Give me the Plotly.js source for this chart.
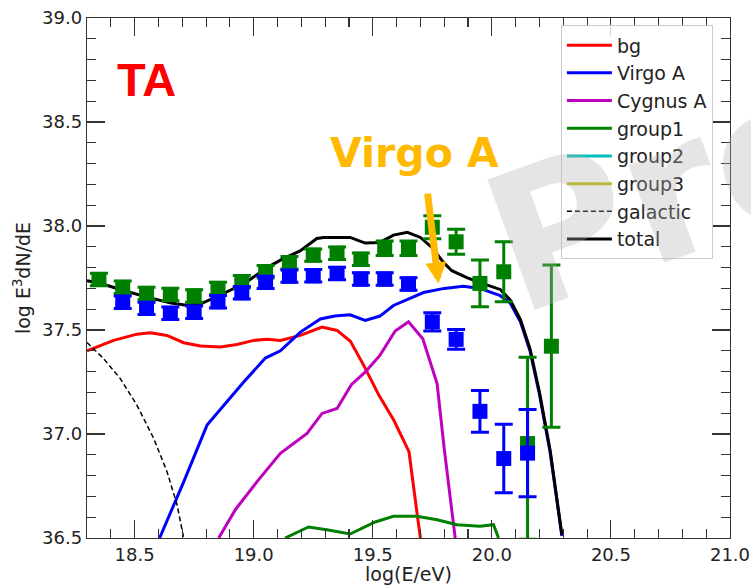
<!DOCTYPE html>
<html>
<head>
<meta charset="utf-8">
<script src="https://cdn.plot.ly/plotly-3.0.1.min.js"></script>
<style>html,body{margin:0;padding:0;background:#fff;}#chart{width:751px;height:585px;}</style>
</head>
<body>
<div id="chart"></div>
<script>
// ---- data points (measured spectrum) ----
const dataGreenX = [18.35,18.45,18.55,18.65,18.75,18.85,18.95,19.05,19.15,19.25,19.35,19.45,19.55,19.65,19.75,19.85,19.95,20.05,20.15,20.25];
const dataGreenY = [37.743,37.705,37.676,37.671,37.664,37.700,37.732,37.780,37.823,37.860,37.869,37.840,37.893,37.893,37.994,37.924,37.724,37.780,36.954,37.422];
const dataGreenErrUp = [0.03,0.03,0.03,0.03,0.03,0.03,0.03,0.03,0.03,0.03,0.03,0.03,0.035,0.035,0.055,0.06,0.112,0.144,0.415,0.39];
const dataGreenErrDown = [0.03,0.03,0.03,0.03,0.03,0.03,0.03,0.03,0.03,0.03,0.03,0.03,0.035,0.035,0.055,0.06,0.112,0.144,0.46,0.39];

const dataBlueX = [18.45,18.55,18.65,18.75,18.85,18.95,19.05,19.15,19.25,19.35,19.45,19.55,19.65,19.75,19.85,19.95,20.05,20.15];
const dataBlueY = [37.633,37.604,37.580,37.585,37.636,37.679,37.729,37.759,37.761,37.772,37.745,37.745,37.721,37.539,37.455,37.109,36.882,36.908];
const dataBlueErr = [0.03,0.03,0.03,0.03,0.03,0.03,0.03,0.03,0.03,0.03,0.03,0.03,0.03,0.044,0.048,0.10,0.165,0.21];

// ---- model curves ----
const bgX = [18.30,18.412,18.51,18.566,18.636,18.706,18.776,18.86,18.93,19.00,19.056,19.112,19.196,19.287,19.35,19.406,19.462,19.526,19.589,19.652,19.687,19.70];
const bgY = [37.40,37.45,37.48,37.487,37.474,37.439,37.423,37.418,37.43,37.45,37.455,37.45,37.474,37.514,37.498,37.446,37.33,37.186,37.065,36.915,36.61,36.50];

const virgoX = [18.605,18.706,18.804,18.874,18.958,19.049,19.112,19.196,19.28,19.34,19.405,19.468,19.53,19.587,19.713,19.80,19.88,19.95,20.035,20.077,20.12,20.16,20.20,20.245,20.294];
const virgoY = [36.50,36.77,37.043,37.138,37.25,37.365,37.40,37.49,37.553,37.567,37.573,37.546,37.567,37.618,37.68,37.70,37.71,37.70,37.665,37.63,37.54,37.40,37.19,36.91,36.51];

const cygX = [18.853,18.923,19.014,19.112,19.224,19.287,19.35,19.41,19.47,19.53,19.594,19.65,19.71,19.77,19.80,19.846];
const cygY = [36.50,36.636,36.771,36.907,37.003,37.099,37.123,37.237,37.30,37.378,37.495,37.54,37.458,37.242,36.93,36.50];

const group1X = [19.132,19.23,19.307,19.405,19.51,19.587,19.685,19.77,19.853,19.95,20.007,20.028];
const group1Y = [36.50,36.553,36.54,36.519,36.577,36.604,36.604,36.588,36.564,36.556,36.564,36.50];

// group2 / group3 lie below the plotted range: no visible values
const group2X = [null];
const group2Y = [null];
const group3X = [null];
const group3Y = [null];

const galX = [18.30,18.37,18.44,18.51,18.58,18.636,18.678,18.706];
const galY = [37.44,37.362,37.266,37.138,36.979,36.819,36.66,36.50];

const totalX = [18.30,18.356,18.457,18.556,18.653,18.71,18.776,18.856,18.958,19.056,19.126,19.195,19.265,19.293,19.405,19.468,19.53,19.587,19.645,19.70,19.748,19.797,19.832,19.895,19.95,20.035,20.077,20.12,20.16,20.20,20.245,20.294];
const totalY = [37.737,37.725,37.689,37.657,37.63,37.62,37.625,37.666,37.721,37.80,37.844,37.88,37.94,37.945,37.945,37.918,37.921,37.956,37.97,37.945,37.897,37.825,37.785,37.752,37.728,37.695,37.645,37.55,37.41,37.20,36.92,36.515];

const legendNames = ['bg','Virgo A','Cygnus A','group1','group2','group3','galactic','total'];
const xTickVals = [18.5,19.0,19.5,20.0,20.5,21.0];
const xTickText = ['18.5','19.0','19.5','20.0','20.5','21.0'];
const yTickVals = [36.5,37.0,37.5,38.0,38.5,39.0];
const yTickText = ['36.5','37.0','37.5','38.0','38.5','39.0'];

const FONT = 'DejaVu Sans, Verdana, sans-serif';
const LW = 3;

function line(x, y, name, color, dash, w) {
  return {x: x, y: y, name: name, type: 'scatter', mode: 'lines', showlegend: true,
          line: {color: color, width: w || LW, dash: dash || 'solid'}, hoverinfo: 'skip'};
}

const traces = [
  line(bgX, bgY, legendNames[0], '#ff0000'),
  line(virgoX, virgoY, legendNames[1], '#0000ff'),
  line(cygX, cygY, legendNames[2], '#bf00bf'),
  line(group1X, group1Y, legendNames[3], '#008000'),
  line(group2X, group2Y, legendNames[4], '#00bfbf'),
  line(group3X, group3Y, legendNames[5], '#bfbf00'),
  line(galX, galY, legendNames[6], '#000000', '5px,3px', 1.5),
  line(totalX, totalY, legendNames[7], '#000000'),
  {x: dataGreenX, y: dataGreenY, type: 'scatter', mode: 'markers', showlegend: false,
   marker: {symbol: 'square', size: 15, color: '#008000'},
   error_y: {type: 'data', symmetric: false, array: dataGreenErrUp, arrayminus: dataGreenErrDown,
             color: '#008000', thickness: 3, width: 9}},
  {x: dataBlueX, y: dataBlueY, type: 'scatter', mode: 'markers', showlegend: false,
   marker: {symbol: 'square', size: 15, color: '#0000ff'},
   error_y: {type: 'data', array: dataBlueErr, color: '#0000ff', thickness: 3, width: 9}}
];

const axisCommon = {
  showline: true, linecolor: '#333', linewidth: 1.3, mirror: 'ticks',
  ticks: 'inside', ticklen: 18, tickwidth: 1.1, tickcolor: '#333',
  showgrid: false, zeroline: false,
  tickfont: {family: FONT, size: 18, color: '#222'}
};

const layout = {
  width: 751, height: 585,
  margin: {l: 87, r: 21, t: 18, b: 47, pad: 0},
  paper_bgcolor: '#ffffff', plot_bgcolor: '#ffffff',
  font: {family: FONT, size: 18, color: '#222'},
  showlegend: true,
  legend: {x: 0.737, y: 0.986, xanchor: 'left', yanchor: 'top',
           bgcolor: 'rgba(255,255,255,0.8)', bordercolor: '#cccccc', borderwidth: 1,
           font: {family: FONT, size: 19, color: '#222'}, itemwidth: 45, tracegroupgap: 0},
  xaxis: Object.assign({}, axisCommon, {
    range: [18.3, 21.0], tickmode: 'array', tickvals: xTickVals, ticktext: xTickText,
    minor: {dtick: 0.1, tick0: 18.3, ticks: 'inside', ticklen: 9, tickwidth: 1.1, tickcolor: '#333', showgrid: false},
    title: {text: 'log(E/eV)', font: {family: FONT, size: 19, color: '#222'}, standoff: 0}
  }),
  yaxis: Object.assign({}, axisCommon, {
    range: [36.5, 39.0], tickmode: 'array', tickvals: yTickVals, ticktext: yTickText,
    minor: {dtick: 0.1, tick0: 36.5, ticks: 'inside', ticklen: 9, tickwidth: 1.1, tickcolor: '#333', showgrid: false},
    title: {text: 'log E<sup>3</sup>dN/dE', font: {family: FONT, size: 19, color: '#222'}, standoff: 6}
  }),
  annotations: [
    {text: '<b>Pre</b>', xref: 'paper', yref: 'paper', x: 0.90, y: 0.665,
     xanchor: 'center', yanchor: 'middle', textangle: -20, showarrow: false,
     font: {family: 'DejaVu Sans', size: 190, color: 'rgba(175,175,175,0.33)'}},
    {text: '<b>TA</b>', xref: 'paper', yref: 'paper', x: 0.0918, y: 0.881,
     xanchor: 'center', yanchor: 'middle', showarrow: false,
     font: {family: 'Liberation Sans, Arial, sans-serif', size: 47, color: '#ff0000'}},
    {text: '<b>Virgo A</b>', xref: 'x', yref: 'y', x: 19.674, y: 38.351,
     xanchor: 'center', yanchor: 'middle', showarrow: false,
     font: {family: FONT, size: 41, color: '#ffb900'}},
    {text: ' ', xref: 'x', yref: 'y', x: 19.776, y: 37.724,
     axref: 'x', ayref: 'y', ax: 19.724, ay: 38.213,
     showarrow: true, arrowhead: 2, arrowsize: 0.6, arrowwidth: 7, arrowcolor: '#ffb900', standoff: 0}
  ]
};

Plotly.newPlot('chart', traces, layout, {displayModeBar: false, staticPlot: true});
</script>
</body>
</html>
